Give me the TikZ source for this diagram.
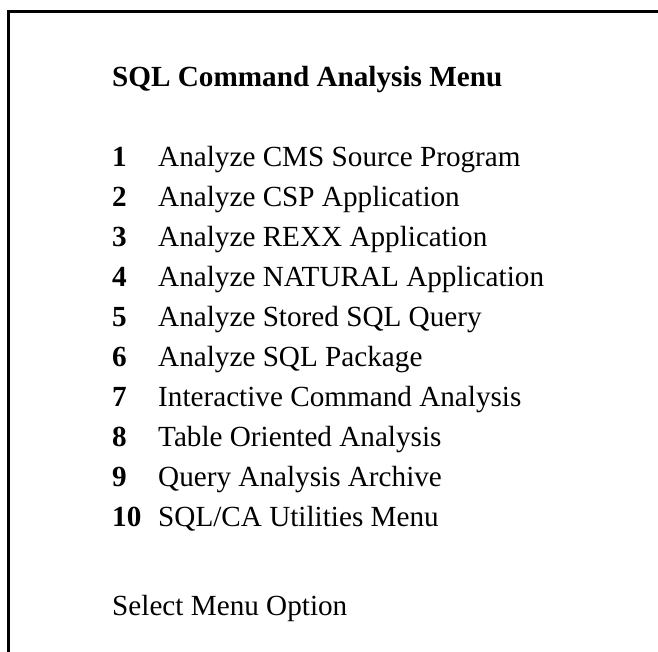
\documentclass[tikz,border=0pt]{standalone}
\usepackage{fontspec}
\setmainfont{Liberation Serif}
\begin{document}
\begin{tikzpicture}[x=1bp,y=-1bp,
  txt/.style={anchor=base west,inner sep=0pt,font=\fontsize{29.3}{34}\selectfont},
  num/.style={txt,font=\fontsize{29.3}{34}\selectfont\bfseries}]
\useasboundingbox (0,0) rectangle (658,652);
\draw[line width=3bp] (8.5,652) -- (8.5,11.5) -- (658,11.5);
\node[num] (title) at (112,87) {SQL Command Analysis Menu};
\foreach \i/\t [count=\k from 0] in {1/{Analyze CMS Source Program},2/{Analyze CSP Application},3/{Analyze REXX Application},4/{Analyze NATURAL Application},5/{Analyze Stored SQL Query},6/{Analyze SQL Package},7/{Interactive Command Analysis},8/{Table Oriented Analysis},9/{Query Analysis Archive},10/{SQL/CA Utilities Menu}}{
  \node[num] (n\i) at (112,166+40.1*\k) {\i};
  \node[txt] (t\i) at (158,166+40.1*\k) {\t};
}
\node[txt] (sel) at (112,615) {Select Menu Option};
\end{tikzpicture}
\end{document}
